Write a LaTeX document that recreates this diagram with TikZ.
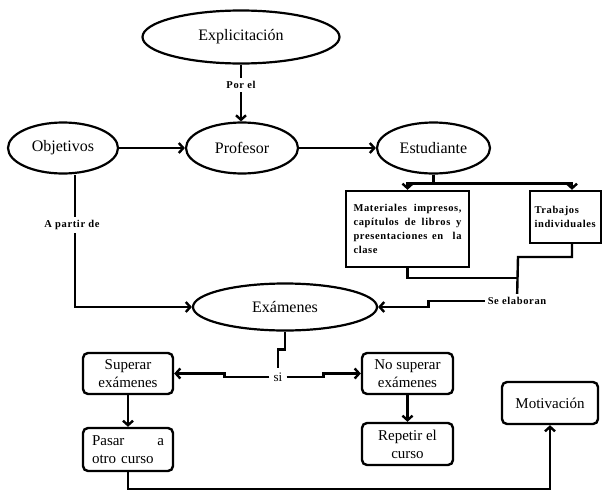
\documentclass[tikz,border=0pt]{standalone}
\usepackage{fontspec}
\setmainfont{Liberation Serif}
\newfontfamily\spacedserif[LetterSpace=6]{Liberation Serif}
\usetikzlibrary{shapes.geometric,arrows.meta,backgrounds}

\begin{document}
\begin{tikzpicture}[x=1pt,y=-1pt,
  oval/.style={ellipse,draw,line width=2.2pt,inner sep=0pt,font=\fontsize{16}{19}\selectfont},
  rbox/.style={draw,rounded corners=5pt,line width=2.4pt,inner sep=0pt,align=center,font=\fontsize{15}{18}\selectfont},
  sbox/.style={draw,line width=2.4pt,inner sep=0pt,font=\spacedserif\bfseries\fontsize{10.5}{14}\selectfont},
  lbl/.style={fill=white,inner sep=3pt,font=\spacedserif\bfseries\fontsize{10.5}{12}\selectfont},
  conn/.style={line width=2.4pt},
  arr/.style={conn,-{Straight Barb[length=4.5pt,width=10pt]}}]
\useasboundingbox (0,0) rectangle (603,490);

% concept ovals
\node[oval,minimum width=197pt,minimum height=53pt] (exp) at (241,37) {Explicitación};
\node[oval,minimum width=110pt,minimum height=51pt] (obj) at (63,148) {Objetivos};
\node[oval,minimum width=112pt,minimum height=51pt] (prof) at (242,148) {Profesor};
\node[oval,minimum width=113pt,minimum height=51pt] (est) at (433.5,148) {Estudiante};
\node[oval,minimum width=184pt,minimum height=47pt] (ex) at (285,307) {Exámenes};

% material boxes
\node[sbox,text width=108pt,align=justify,minimum width=123pt,minimum height=76pt] (mat) at (407.5,229)
  {Materiales impresos, capítulos de libros y presentaciones en~~la clase};
\node[sbox,text width=62pt,align=left,minimum width=71pt,minimum height=52pt] (tr) at (565.5,217)
  {Trabajos\\individuales};

% outcome boxes
\node[rbox,minimum width=90pt,minimum height=41pt] (sup) at (128,373.5) {Superar\\exámenes};
\node[rbox,minimum width=90pt,minimum height=43pt,text width=72pt,align=left] (pas) at (128,449.5) {Pasar\hfill a\\otro curso};
\node[rbox,minimum width=91pt,minimum height=41pt] (nsup) at (407.5,373.5) {No superar\\exámenes};
\node[rbox,minimum width=91pt,minimum height=42pt] (rep) at (407.5,444) {Repetir el\\curso};
\node[rbox,minimum width=96pt,minimum height=42pt] (mot) at (550,403) {Motivación};

% link labels
\node[lbl] (por) at (241,85) {Por el};
\node[lbl] (ap) at (72,225) {A partir de};
\node[lbl] (se) at (517,301) {Se elaboran};
\node[lbl,inner sep=4pt,font=\fontsize{13}{15}\selectfont] (si) at (278,377) {si};

\coordinate (jm) at (518,278);
\coordinate (jt) at (518,257);

\begin{scope}[on background layer]
  \fill[white] (0,0) rectangle (603,490);
  \draw[arr] (exp.south) -- (exp.south |- prof.north);
  \draw[arr] (obj) -- (prof);
  \draw[arr] (prof) -- (est);
  \draw[arr] ([xshift=12pt]obj.south) |- (ex.west);
  \draw[arr] (est.south) -- ++(0,9) -| (mat.north);
  \draw[arr] (est.south) -- ++(0,9) -| ([xshift=6.5pt]tr.north);
  \draw[conn] (mat.south) |- (jm);
  \draw[conn] ([xshift=6.5pt]tr.south) |- (jt) -- (se);
  \draw[arr] (se.west) -- ++(-56,0) |- (ex.east);
  \draw[conn] (ex.south) -- ++(0,18) -- ++(-7,0) -- (si);
  \draw[arr] (si.west) -- ++(-45,0) |- (sup.east);
  \draw[arr] (si.east) -- ++(37,0) |- (nsup.west);
  \draw[arr] (sup) -- (pas);
  \draw[arr] (nsup) -- (rep);
  \draw[arr] (pas.south) -- ++(0,17) -| (mot.south);
\end{scope}
\end{tikzpicture}
\end{document}
